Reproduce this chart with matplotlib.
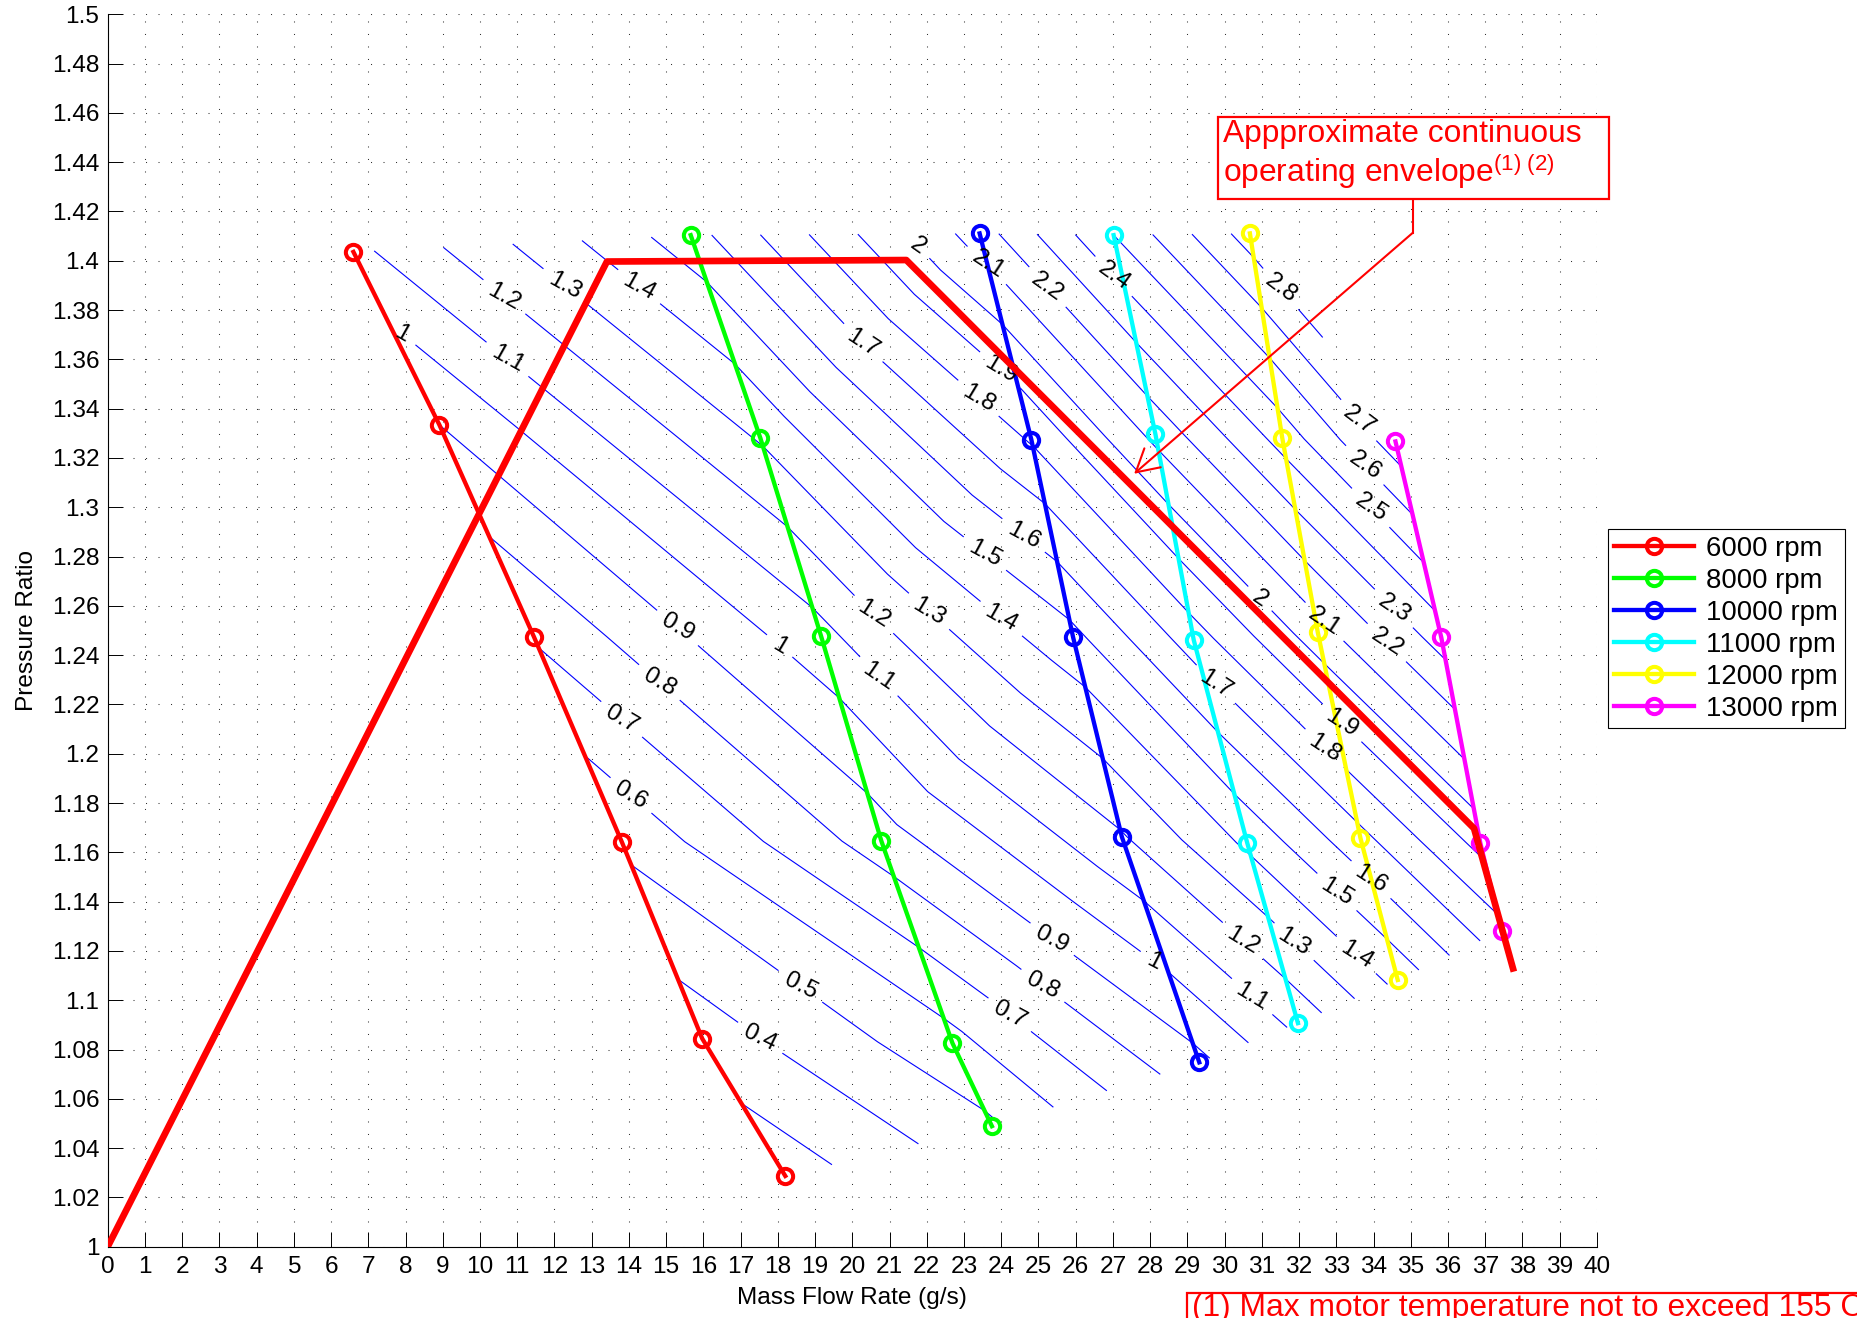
import numpy as np
import matplotlib
matplotlib.use('Agg')
import matplotlib.pyplot as plt
from matplotlib.patches import Rectangle

plt.rcParams['font.family'] = ['Liberation Sans', 'DejaVu Sans']
plt.rcParams['mathtext.fontset'] = 'custom'
plt.rcParams['mathtext.rm'] = 'Liberation Sans'
plt.rcParams['mathtext.it'] = 'Liberation Sans:italic'

# ---------------- data ----------------
speed_labels = ['6000 rpm', '8000 rpm', '10000 rpm', '11000 rpm', '12000 rpm', '13000 rpm']
speed_colors = ['#ff0000', '#00ff00', '#0000ff', '#00ffff', '#ffff00', '#ff00ff']

flow_6000 = [6.60, 8.91, 11.45, 13.81, 15.97, 18.20]
pr_6000 = [1.4036, 1.3334, 1.2474, 1.1642, 1.0844, 1.0287]
power_6000 = [1.07, 0.90, 0.71, 0.52, 0.348, 0.246]

flow_8000 = [15.66, 17.53, 19.16, 20.78, 22.69, 23.75]
pr_8000 = [1.4104, 1.3281, 1.2478, 1.1646, 1.0826, 1.0489]
power_8000 = [1.557, 1.31, 1.065, 0.85, 0.565, 0.485]

flow_10000 = [23.42, 24.81, 25.93, 27.24, 29.32]
pr_10000 = [1.4111, 1.3274, 1.2473, 1.1663, 1.0748]
power_10000 = [2.15, 1.81, 1.47, 1.19, 0.873]

flow_11000 = [27.02, 28.14, 29.17, 30.61, 31.97]
pr_11000 = [1.4104, 1.3298, 1.2462, 1.1637, 1.0907]
power_11000 = [2.50, 2.13, 1.75, 1.42, 1.128]

flow_12000 = [30.68, 31.55, 32.50, 33.65, 34.65]
pr_12000 = [1.4111, 1.3280, 1.2495, 1.1657, 1.1082]
power_12000 = [2.848, 2.44, 2.06, 1.67, 1.431]

flow_13000 = [34.59, 35.82, 36.87, 37.44]
pr_13000 = [1.3267, 1.2472, 1.1637, 1.1282]
power_13000 = [2.752, 2.345, 1.931, 1.77]

envelope_flow = [0.0, 13.41, 21.45, 36.70, 37.77]
envelope_pr = [1.0, 1.3997, 1.4003, 1.1697, 1.1116]

contour_levels = [0.3, 0.4, 0.5, 0.6, 0.7, 0.8, 0.9, 1.0, 1.1, 1.2, 1.3, 1.4,
                  1.5, 1.6, 1.7, 1.8, 1.9, 2.0, 2.1, 2.2, 2.3, 2.4, 2.5, 2.6,
                  2.7, 2.8]

label_level = [0.4, 0.5, 0.6, 0.7, 0.7, 0.8, 0.8, 0.9, 0.9, 1.0, 1.0, 1.0,
               1.1, 1.1, 1.1, 1.2, 1.2, 1.2, 1.3, 1.3, 1.3, 1.4, 1.4, 1.4,
               1.5, 1.5, 1.6, 1.6, 1.7, 1.7, 1.8, 1.8, 1.9, 1.9, 2.0, 2.0,
               2.1, 2.1, 2.2, 2.2, 2.3, 2.4, 2.5, 2.6, 2.7, 2.8]
label_x = [17.52, 18.60, 14.01, 13.87, 24.26, 14.88, 25.10, 15.27, 25.39, 7.90, 18.11, 28.14,
           10.72, 20.80, 30.74, 10.65, 20.61, 30.51, 12.26, 22.05, 31.87, 14.26, 23.93, 33.54,
           23.53, 33.04, 24.54, 33.92, 20.32, 29.78, 23.41, 32.68, 23.96, 33.18, 21.73, 30.96,
           23.57, 32.68, 25.23, 34.32, 34.55, 26.99, 33.87, 33.74, 33.60, 31.47]
label_y = [1.0846, 1.1055, 1.1823, 1.2151, 1.0947, 1.2300, 1.1055, 1.2504, 1.1252, 1.3699, 1.2448, 1.1163,
           1.3597, 1.2327, 1.1015, 1.3853, 1.2570, 1.1245, 1.3897, 1.2576, 1.1238, 1.3892, 1.2535, 1.1184,
           1.2806, 1.1443, 1.2874, 1.1487, 1.3672, 1.2285, 1.3446, 1.2022, 1.3555, 1.2129, 1.4056, 1.2631,
           1.3976, 1.2535, 1.3892, 1.2445, 1.2590, 1.3933, 1.2990, 1.3167, 1.3353, 1.3881]

x_ticks = list(range(0, 41))
y_ticks = [1.0, 1.02, 1.04, 1.06, 1.08, 1.1, 1.12, 1.14, 1.16, 1.18, 1.2, 1.22, 1.24,
           1.26, 1.28, 1.3, 1.32, 1.34, 1.36, 1.38, 1.4, 1.42, 1.44, 1.46, 1.48, 1.5]

# ---------------- figure ----------------
W, H = 1857, 1318
fig = plt.figure(figsize=(W / 100, H / 100), dpi=100)
ax = fig.add_axes([107.7 / W, 1 - 1246.7 / H, (1596.9 - 107.7) / W, (1246.7 - 14.3) / H])
ax.set_xlim(0, 40)
ax.set_ylim(1, 1.5)

FS = 17.6

flows = [flow_6000, flow_8000, flow_10000, flow_11000, flow_12000, flow_13000]
prs = [pr_6000, pr_8000, pr_10000, pr_11000, pr_12000, pr_13000]
pows = [power_6000, power_8000, power_10000, power_11000, power_12000, power_13000]

# structured map grid: one column per speed line, rows aligned from the lowest
# point upward, shorter speed lines padded with their top point
nrow = max(len(f) for f in flows)


def column(vals):
    v = list(vals)[::-1]
    return v + [v[-1]] * (nrow - len(v))


GX = np.array([column(f) for f in flows]).T
GY = np.array([column(p) for p in prs]).T
GZ = np.array([column(z) for z in pows]).T

cs = ax.contour(GX, GY, GZ, levels=contour_levels, colors='#0000ff',
                linewidths=0.8, zorder=2)
fmt = lambda v: f'{v:g}'
cs.clabel(levels=contour_levels, manual=[], inline=True, inline_spacing=10,
          fontsize=FS, colors='k', fmt=fmt)
for lev, lx, ly in zip(label_level, label_x, label_y):
    idx = contour_levels.index(lev)
    cs.labelIndiceList = [idx]
    cs.labelLevelList = [lev] * len(contour_levels)
    try:
        cs.add_label_near(lx, ly, inline=True, inline_spacing=10)
    except Exception:
        pass
for t in cs.labelTexts:
    r = ((t.get_rotation() + 180.0) % 360.0) - 180.0
    t.set_rotation(r * 0.75)

# speed lines
handles = []
for f, p, c, lab in zip(flows, prs, speed_colors, speed_labels):
    h, = ax.plot(f, p, '-o', color=c, lw=3.1, ms=11, mfc='none', mew=2.9,
                 zorder=3, label=lab)
    handles.append(h)

# operating envelope
ax.plot(envelope_flow, envelope_pr, '-', color='#ff0000', lw=4.8, zorder=4,
        solid_capstyle='butt')

# grid / axes styling
ax.set_xticks(x_ticks)
ax.set_xticklabels([f'{v:g}' for v in x_ticks])
ax.set_yticks(y_ticks)
ax.set_yticklabels([f'{v:g}' for v in y_ticks])
ax.grid(True, color='0.2', linestyle=(0, (1, 11)), linewidth=0.75)
ax.set_axisbelow(True)
for s in ['top', 'right']:
    ax.spines[s].set_visible(False)
for s in ['left', 'bottom']:
    ax.spines[s].set_linewidth(0.8)
ax.tick_params(direction='in', length=11, width=0.7, labelsize=FS)
ax.tick_params(axis='x', pad=7)
ax.tick_params(axis='y', pad=6)
ax.set_xlabel('Mass Flow Rate (g/s)', fontsize=FS, labelpad=6)
ax.set_ylabel('Pressure Ratio', fontsize=FS, labelpad=10)

# legend
leg = ax.legend(handles=handles, loc='upper left',
                bbox_to_anchor=(1608 / W, 1 - 529.4 / H), bbox_transform=fig.transFigure,
                borderaxespad=0, fontsize=19.8, handlelength=2.9, handletextpad=0.45,
                borderpad=0.23, labelspacing=0.22, fancybox=False, framealpha=1,
                edgecolor='k')
leg.get_frame().set_linewidth(0.8)

# annotation box with leader arrow
fig.add_artist(Rectangle((1218.3 / W, 1 - 199.3 / H), 391 / W, 82 / H,
                         transform=fig.transFigure, facecolor='white',
                         edgecolor='#ff0000', lw=1.6, zorder=5))
fig.text(1223 / W, 1 - 119 / H, 'Appproximate continuous\noperating envelope$^{(1)\\ (2)}$',
         color='#ff0000', fontsize=22.9, va='top', ha='left', linespacing=1.1, zorder=6)
ax.plot([35.05, 35.05], [1.4252, 1.4113], color='#ff0000', lw=1.5, zorder=5, clip_on=False)
ax.annotate('', xy=(27.57, 1.3136), xytext=(35.05, 1.4113),
            arrowprops=dict(arrowstyle='->,head_length=0.8,head_width=0.45',
                            color='#ff0000', lw=1.5, mutation_scale=20,
                            shrinkA=0, shrinkB=0), zorder=5)

# footnote box (cut off by the figure edge as in the original)
fig.add_artist(Rectangle((1187 / W, -0.05), 0.5, 0.05 + 1 - 1292.7 / H,
                         transform=fig.transFigure, facecolor='white',
                         edgecolor='#ff0000', lw=1.6, zorder=5, clip_on=False))
fig.text(1192 / W, 1 - 1293 / H, '(1) Max motor temperature not to exceed 155 C',
         color='#ff0000', fontsize=22.9, va='top', ha='left', zorder=6)

fig.savefig('out.png', dpi=100)
